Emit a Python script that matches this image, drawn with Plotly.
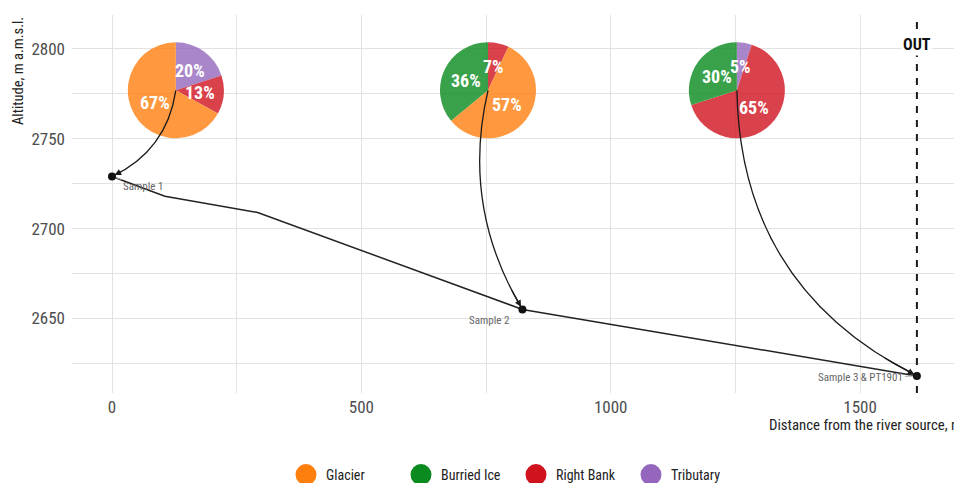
import math
import plotly.graph_objects as go

# ---- data -------------------------------------------------------------
profile_dist = [0, 106, 292, 823, 1614]          # m from the river source
profile_alt = [2729, 2718, 2709, 2655, 2618]      # m a.m.s.l.

sample_names = ["Sample 1", "Sample 2", "Sample 3 & PT1901"]
sample_dist = [0, 823, 1614]
sample_alt = [2729, 2655, 2618]

# source shares, listed counter-clockwise from 12 o'clock
sources = ["Burried Ice", "Glacier", "Right Bank", "Tributary"]
legend_order = ["Glacier", "Burried Ice", "Right Bank", "Tributary"]
shares = [
    [0, 67, 13, 20],   # Sample 1
    [36, 57, 7, 0],    # Sample 2
    [30, 0, 65, 5],    # Sample 3
]
pie_dist = [128, 754, 1253]
pie_alt = [2777, 2777, 2777]

outlet_dist = 1614

x_ticks = [0, 500, 1000, 1500]
y_ticks = [2650, 2700, 2750, 2800]

# ---- style ------------------------------------------------------------
colors = {"Glacier": "#FF7F0E", "Burried Ice": "#0A8A1F",
          "Right Bank": "#D0121F", "Tributary": "#9467BD"}
FONT = "Liberation Sans Narrow, Roboto Condensed, Roboto, sans-serif"
W, H = 954, 483
ML, MR, MT, MB = 72, 0, 15, 90
XR = [-80.2, 1688.4]
YR = [2608.5, 2818.9]
PW, PH = W - ML - MR, H - MT - MB
PIE_R = 48                       # pie radius, px
curve_bend = [-0.266, 0.203, 0.303]


def px_x(d):
    return ML + (d - XR[0]) / (XR[1] - XR[0]) * PW


def px_y(a):
    return MT + (YR[1] - a) / (YR[1] - YR[0]) * PH


def data_x(p):
    return XR[0] + (p - ML) / PW * (XR[1] - XR[0])


def data_y(p):
    return YR[1] - (p - MT) / PH * (YR[1] - YR[0])


fig = go.Figure()

# river longitudinal profile
fig.add_trace(go.Scatter(
    x=profile_dist, y=profile_alt, mode="lines",
    line=dict(color="#222222", width=1.5),
    showlegend=False, hoverinfo="skip"))

fig.add_trace(go.Scatter(
    x=sample_dist, y=sample_alt, mode="markers",
    marker=dict(color="#111111", size=8),
    showlegend=False, hoverinfo="skip"))

annotations = []
shapes = []

# pies of source contributions (empty sources left out of each pie)
for i, vals in enumerate(shares):
    labs = [s for s, v in zip(sources, vals) if v > 0]
    vs = [v for v in vals if v > 0]
    cx, cy = px_x(pie_dist[i]), px_y(pie_alt[i])
    # drawn clockwise from 12 o'clock, so the list is reversed
    fig.add_trace(go.Pie(
        labels=labs[::-1], values=vs[::-1], sort=False,
        direction="clockwise", rotation=0,
        marker=dict(colors=[colors[s] for s in labs[::-1]],
                    line=dict(width=0)),
        opacity=0.8, textinfo="none", hoverinfo="skip",
        showlegend=False,
        domain=dict(x=[(cx - PIE_R - ML) / PW, (cx + PIE_R - ML) / PW],
                    y=[(H - MB - (cy + PIE_R)) / PH,
                       (H - MB - (cy - PIE_R)) / PH]),
    ))
    total = sum(vs)
    cum = 0
    for v in vs:
        mid = (cum + v / 2) / total * 2 * math.pi   # counter-clockwise
        cum += v
        annotations.append(dict(
            x=pie_dist[i], y=pie_alt[i], xref="x", yref="y",
            text=f"<b>{v}%</b>", showarrow=False,
            xshift=-math.sin(mid) * PIE_R * 0.5,
            yshift=math.cos(mid) * PIE_R * 0.5,
            font=dict(family=FONT, size=18, color="white")))

    # curved arrow from the pie to its sample
    sx, sy = cx, cy
    ex, ey = px_x(sample_dist[i]), px_y(sample_alt[i])
    dx, dy = ex - sx, ey - sy
    L = math.hypot(dx, dy)
    k = curve_bend[i]
    qx = (sx + ex) / 2 + k * L * (-dy / L)
    qy = (sy + ey) / 2 + k * L * (dx / L)
    shapes.append(dict(
        type="path", xref="x", yref="y",
        path=(f"M {pie_dist[i]},{pie_alt[i]} "
              f"Q {data_x(qx)},{data_y(qy)} {sample_dist[i]},{sample_alt[i]}"),
        line=dict(color="#1a1a1a", width=1.3)))
    t = 0.9
    tx = (1 - t) ** 2 * sx + 2 * (1 - t) * t * qx + t ** 2 * ex
    ty = (1 - t) ** 2 * sy + 2 * (1 - t) * t * qy + t ** 2 * ey
    annotations.append(dict(
        x=sample_dist[i], y=sample_alt[i], xref="x", yref="y",
        ax=data_x(tx), ay=data_y(ty), axref="x", ayref="y",
        text="", showarrow=True, arrowhead=2, arrowsize=1,
        arrowwidth=1.3, arrowcolor="#1a1a1a", standoff=3))

# sample labels
label_offsets = [(31, 10, True), (-33, 11, False), (-56, 2, True)]
for name, d, a, (ox, oy, lead) in zip(sample_names, sample_dist, sample_alt,
                                      label_offsets):
    if lead:
        annotations.append(dict(
            x=d, y=a, xref="x", yref="y", text=name,
            showarrow=True, ax=ox, ay=oy, arrowhead=0, arrowwidth=1,
            arrowcolor="#AAAAAA", standoff=4,
            font=dict(family=FONT, size=11, color="#666666")))
    else:
        annotations.append(dict(
            x=d, y=a, xref="x", yref="y", text=name, showarrow=False,
            xshift=ox, yshift=-oy,
            font=dict(family=FONT, size=11, color="#666666")))

# outlet marker
shapes.append(dict(type="line", xref="x", yref="paper",
                   x0=outlet_dist, x1=outlet_dist, y0=0, y1=1,
                   line=dict(color="#1a1a1a", width=2, dash="7px,7px")))
annotations.append(dict(
    x=outlet_dist, y=(H - MB - 33) / PH, xref="x", yref="paper",
    text="<b>OUT</b>", showarrow=False, bgcolor="white",
    font=dict(family=FONT, size=16, color="#111111")))

# axis titles
annotations.append(dict(
    x=(18 - ML) / PW, y=1.0, xref="paper", yref="paper",
    text="Altitude, m a.m.s.l.", textangle=-90, showarrow=False,
    xanchor="center", yanchor="top",
    font=dict(family=FONT, size=14.5, color="#222222")))
annotations.append(dict(
    x=(767 - ML) / PW, y=(H - MB - 425) / PH, xref="paper", yref="paper",
    text="Distance from the river source, m", showarrow=False,
    xanchor="left", yanchor="middle",
    font=dict(family=FONT, size=14.8, color="#222222")))

# legend entries
for s in legend_order:
    fig.add_trace(go.Scatter(
        x=[None], y=[None], mode="markers", name=s,
        marker=dict(size=16, color=colors[s],
                    line=dict(color=colors[s], width=5))))

grid = dict(showgrid=True, gridcolor="#E2E2E2", gridwidth=1.3,
            zeroline=False, showline=False, ticks="")
fig.update_xaxes(range=XR, tickvals=x_ticks, **grid,
                 minor=dict(dtick=250, tick0=0, showgrid=True,
                            gridcolor="#E2E2E2", gridwidth=1.3),
                 tickfont=dict(family=FONT, size=17, color="#4D4D4D"),
                 ticklabelstandoff=2)
fig.update_yaxes(range=YR, tickvals=y_ticks, **grid,
                 minor=dict(dtick=25, tick0=2600, showgrid=True,
                            gridcolor="#E2E2E2", gridwidth=1.3),
                 tickfont=dict(family=FONT, size=17, color="#4D4D4D"),
                 ticklabelstandoff=6)

fig.update_layout(
    width=W, height=H,
    margin=dict(l=ML, r=MR, t=MT, b=MB, pad=0, autoexpand=False),
    plot_bgcolor="white", paper_bgcolor="white",
    shapes=shapes, annotations=annotations,
    legend=dict(orientation="h", x=0.5 + 3 / PW, xanchor="center",
                y=(H - MB - 475) / PH, yanchor="middle",
                font=dict(family=FONT, size=14, color="#222222"),
                entrywidth=70),
    hovermode=False,
)

fig.write_html("out.html")
